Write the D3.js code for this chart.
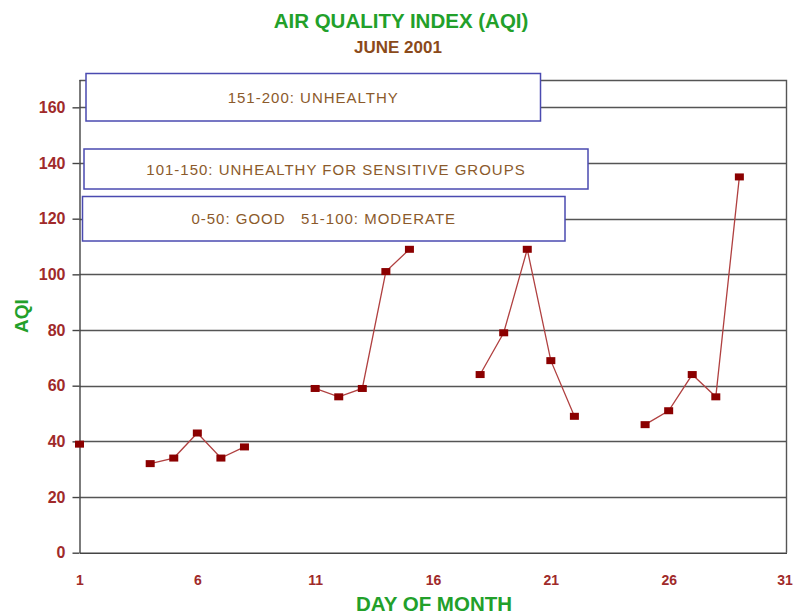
<!DOCTYPE html>
<html>
<head>
<meta charset="utf-8">
<script src="https://cdn.jsdelivr.net/npm/d3@7"></script>
<style>
  body { margin: 0; background: #fff; }
  svg { display: block; font-family: "Liberation Sans", Arial, sans-serif; }
</style>
</head>
<body>
<div id="chart"></div>
<script>
// data (null = no reading that day)
const days = d3.range(1, 31);
const aqi = [39, null, null, 32, 34, 43, 34, 38, null, null,
             59, 56, 59, 101, 109, null, null, 64, 79, 109,
             69, 49, null, null, 46, 51, 64, 56, 135, null];
const xTicks = [1, 6, 11, 16, 21, 26, 31];
const yTicks = [0, 20, 40, 60, 80, 100, 120, 140, 160];
const legendLabels = ["151-200: UNHEALTHY",
                      "101-150: UNHEALTHY FOR SENSITIVE GROUPS",
                      "0-50: GOOD   51-100: MODERATE"];

const W = 793, H = 615;
const plotL = 79.5, plotR = 786.5, plotT = 79.5, plotB = 552.7;

const svg = d3.select('#chart').append('svg')
    .attr('width', W)
    .attr('height', H);

const x = d3.scaleLinear().domain([1, 31]).range([plotL, plotR]);
const y = d3.scaleLinear().domain([0, 170]).range([plotB, plotT]);

// gridlines
svg.append('g')
    .selectAll('line')
    .data(yTicks.filter(d => d > 0))
    .join('line')
    .attr('x1', plotL).attr('x2', plotR)
    .attr('y1', d => Math.round(y(d)) + 0.5)
    .attr('y2', d => Math.round(y(d)) + 0.5)
    .attr('stroke', '#555')
    .attr('stroke-width', 1.4);

// frame: top and right
svg.append('path')
    .attr('d', `M${plotL},${Math.round(plotT) + 0.5}H${plotR}V${plotB}`)
    .attr('fill', 'none')
    .attr('stroke', '#555')
    .attr('stroke-width', 1.4);

// y axis
const yAxis = svg.append('g')
    .attr('transform', `translate(${plotL},0)`)
    .call(d3.axisLeft(y).tickValues(yTicks).tickSize(7).tickPadding(7).tickSizeOuter(0));
yAxis.select('.domain').attr('stroke', '#444').attr('stroke-width', 1.4);
yAxis.selectAll('.tick line').attr('stroke', '#444').attr('stroke-width', 1.4);
yAxis.selectAll('.tick text')
    .attr('fill', '#a02a2a')
    .style('font-size', '16px')
    .style('font-weight', 'bold')
    .style('font-family', '"Liberation Sans", Arial, sans-serif');

// x axis
const xAxis = svg.append('g')
    .attr('transform', `translate(0,${plotB})`)
    .call(d3.axisBottom(x).tickValues(xTicks).tickSize(0).tickPadding(22).tickSizeOuter(0));
xAxis.select('.domain').attr('stroke', '#444').attr('stroke-width', 1.4);
xAxis.selectAll('.tick text')
    .attr('fill', '#a02a2a')
    .style('font-size', '14px')
    .style('font-weight', 'bold')
    .style('font-family', '"Liberation Sans", Arial, sans-serif');
// last label sits against the page edge
xAxis.selectAll('.tick text').filter(d => d === 31).attr('dx', -2);

// legend boxes (drawn over the grid)
const boxes = [
    { x0: 86, y0: 73.5, x1: 540.5, y1: 121 },
    { x0: 84, y0: 149, x1: 588, y1: 189 },
    { x0: 82.5, y0: 196.5, x1: 565, y1: 241 }
];
const leg = svg.append('g')
    .selectAll('g')
    .data(legendLabels)
    .join('g');
leg.append('rect')
    .attr('x', (d, i) => boxes[i].x0)
    .attr('y', (d, i) => boxes[i].y0)
    .attr('width', (d, i) => boxes[i].x1 - boxes[i].x0)
    .attr('height', (d, i) => boxes[i].y1 - boxes[i].y0)
    .attr('fill', '#fff')
    .attr('stroke', '#4a4ab0')
    .attr('stroke-width', 1.5);
leg.append('text')
    .attr('x', (d, i) => (boxes[i].x0 + boxes[i].x1) / 2)
    .attr('y', (d, i) => (boxes[i].y0 + boxes[i].y1) / 2 + 5.5)
    .attr('text-anchor', 'middle')
    .attr('fill', '#8b5a2b')
    .style('font-size', '15px')
    .style('letter-spacing', '1px')
    .style('white-space', 'pre')
    .text(d => d);

// series
const pts = days.map((d, i) => ({ day: d, v: aqi[i] }));
const line = d3.line()
    .defined(d => d.v !== null)
    .x(d => x(d.day))
    .y(d => y(d.v));
svg.append('path')
    .datum(pts)
    .attr('d', line)
    .attr('fill', 'none')
    .attr('stroke', '#b04040')
    .attr('stroke-width', 1.3);
svg.append('g')
    .selectAll('rect')
    .data(pts.filter(d => d.v !== null))
    .join('rect')
    .attr('x', d => x(d.day) - 4.5)
    .attr('y', d => y(d.v) - 3.5)
    .attr('width', 9)
    .attr('height', 7)
    .attr('fill', '#8b0000');

// titles
svg.append('text')
    .attr('x', 401).attr('y', 28)
    .attr('text-anchor', 'middle')
    .attr('fill', '#22a02a')
    .style('font-size', '20.5px')
    .style('font-weight', 'bold')
    .text('AIR QUALITY INDEX (AQI)');
svg.append('text')
    .attr('x', 398).attr('y', 53)
    .attr('text-anchor', 'middle')
    .attr('fill', '#8b4a1a')
    .style('font-size', '17px')
    .style('font-weight', 'bold')
    .text('JUNE 2001');
svg.append('text')
    .attr('x', 434).attr('y', 611)
    .attr('text-anchor', 'middle')
    .attr('fill', '#22a02a')
    .style('font-size', '20.5px')
    .style('font-weight', 'bold')
    .text('DAY OF MONTH');
svg.append('text')
    .attr('transform', 'translate(28,316) rotate(-90)')
    .attr('text-anchor', 'middle')
    .attr('fill', '#22a02a')
    .style('font-size', '19px')
    .style('font-weight', 'bold')
    .text('AQI');
</script>
</body>
</html>
